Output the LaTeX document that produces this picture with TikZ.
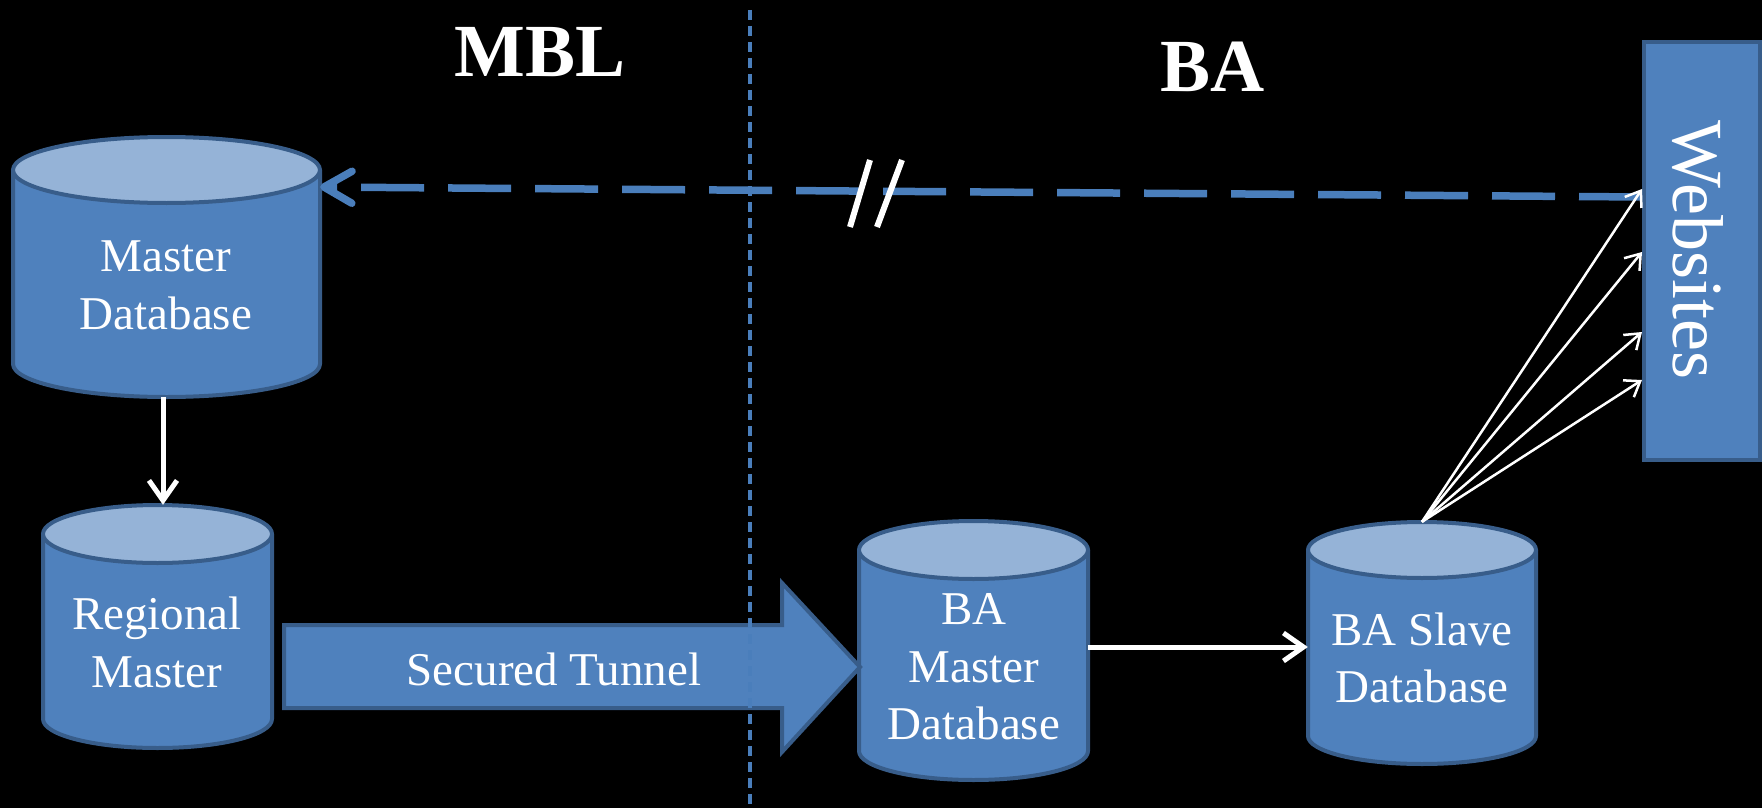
\documentclass[tikz,border=0pt]{standalone}
\usepackage{fontspec}
\setmainfont{Liberation Serif}
\usetikzlibrary{arrows.meta,calc}
\definecolor{dbfill}{HTML}{4F81BD}
\definecolor{dbtop}{HTML}{95B3D7}
\definecolor{dbline}{HTML}{385D8A}
\definecolor{dashblue}{HTML}{4A7EBB}
\tikzset{
  cylbody/.style={fill=dbfill, draw=dbline, line width=4pt, line join=round},
  cyltop/.style={fill=dbtop, draw=dbline, line width=4pt},
  hold/.style={rectangle, inner sep=0pt, draw=none},
  lbl/.style={text=white, align=center, font=\fontsize{47}{57.5}\selectfont},
  title/.style={text=white, font=\bfseries\fontsize{75}{80}\selectfont, anchor=base},
  flow/.style={draw=white, line width=5pt, -{Straight Barb[length=20pt,width=28pt]}},
  fan/.style={draw=white, line width=2.5pt, -{Straight Barb[length=14pt,width=20pt]}},
  back/.style={draw=dashblue, line width=7.5pt, dash pattern=on 63pt off 24pt, -{Straight Barb[length=28pt,width=32pt,round]}},
  divider/.style={draw=dashblue, line width=3.5pt, dash pattern=on 10pt off 6pt},
  slash/.style={draw=white, line width=6pt},
  tunnel/.style={fill=dbfill, draw=dbline, line width=4pt, line join=miter},
  webbox/.style={rectangle, fill=dbfill, draw=dbline, line width=4pt, inner sep=0pt, minimum width=116pt, minimum height=418pt},
}
% #1 name, #2 left, #3 top, #4 right, #5 bottom, #6 ellipse half-height
\newcommand\dbcyl[6]{%
  \pgfmathsetmacro\cxa{(#2+#4)/2}%
  \pgfmathsetmacro\cra{(#4-#2)/2}%
  \pgfmathsetmacro\cya{(#3+#5)/2}%
  \node[hold, minimum width={(#4-#2)*1pt}, minimum height={(#5-#3)*1pt}] (#1) at (\cxa,\cya) {};
  \path[cylbody] (#2,#3+#6) -- (#2,#5-#6) arc[start angle=180,end angle=360,x radius=\cra pt,y radius=#6pt] -- (#4,#3+#6) -- cycle;
  \path[cyltop] (\cxa,#3+#6) ellipse[x radius=\cra pt, y radius=#6pt];
}
\begin{document}
\begin{tikzpicture}[x=1pt,y=-1pt]
\fill[black] (0,0) rectangle (1762,808);
\useasboundingbox (0,0) rectangle (1762,808);

% titles
\node[title] (mbl) at (540,77) {MBL};
\node[title] (ba) at (1213,92) {BA};

% databases
\dbcyl{md}{13}{137}{320}{397}{33}
\dbcyl{rm}{43}{505}{272}{748}{29}
\dbcyl{bam}{859}{521}{1088}{780}{29}
\dbcyl{bas}{1308}{522}{1536}{764}{28}

\node[lbl] (mdtext) at (166,285.5) {Master\\Database};
\node[lbl] (rmtext) at (157,642.5) {Regional\\Master};
\node[lbl] (bamtext) at (974,667) {BA\\Master\\Database};
\node[lbl] (bastext) at (1422,658) {BA Slave\\Database};

% secured tunnel
\path[tunnel] (284,625) -- (782,625) -- (782,583) -- (860,667) -- (782,752) -- (782,708) -- (284,708) -- cycle;
\node[lbl, anchor=base] (tuntext) at (554,685) {Secured Tunnel};

% websites
\node[webbox] (ws) at (1702,251) {};
\node[text=white, font=\fontsize{72}{80}\selectfont, rotate=-90, anchor=base] (wstext) at (1673,250) {Websites};

% divider
\coordinate (divtop) at (750,10);
\coordinate (divbot) at (750,808);
\draw[divider] (divtop) -- (divbot);

% connectors
\draw[back] ([yshift=54pt]ws.west) -- ([yshift=80pt]md.east);
\draw[slash] (870,160) -- (850,227);
\draw[slash] (902,160) -- (877,227);

\draw[flow] ([xshift=-3.5pt]md.south) -- ([xshift=5.5pt]rm.north);
\draw[flow] ([yshift=3.5pt]bam.east) -- ([yshift=3.5pt]bam.east -| bas.west);

\draw[fan] (bas.north) -- ([yshift=62pt]ws.west);
\draw[fan] (bas.north) -- ([yshift=-1pt]ws.west);
\draw[fan] (bas.north) -- ([yshift=-81pt]ws.west);
\draw[fan] (bas.north) -- ([yshift=-129pt]ws.west);
\end{tikzpicture}
\end{document}
